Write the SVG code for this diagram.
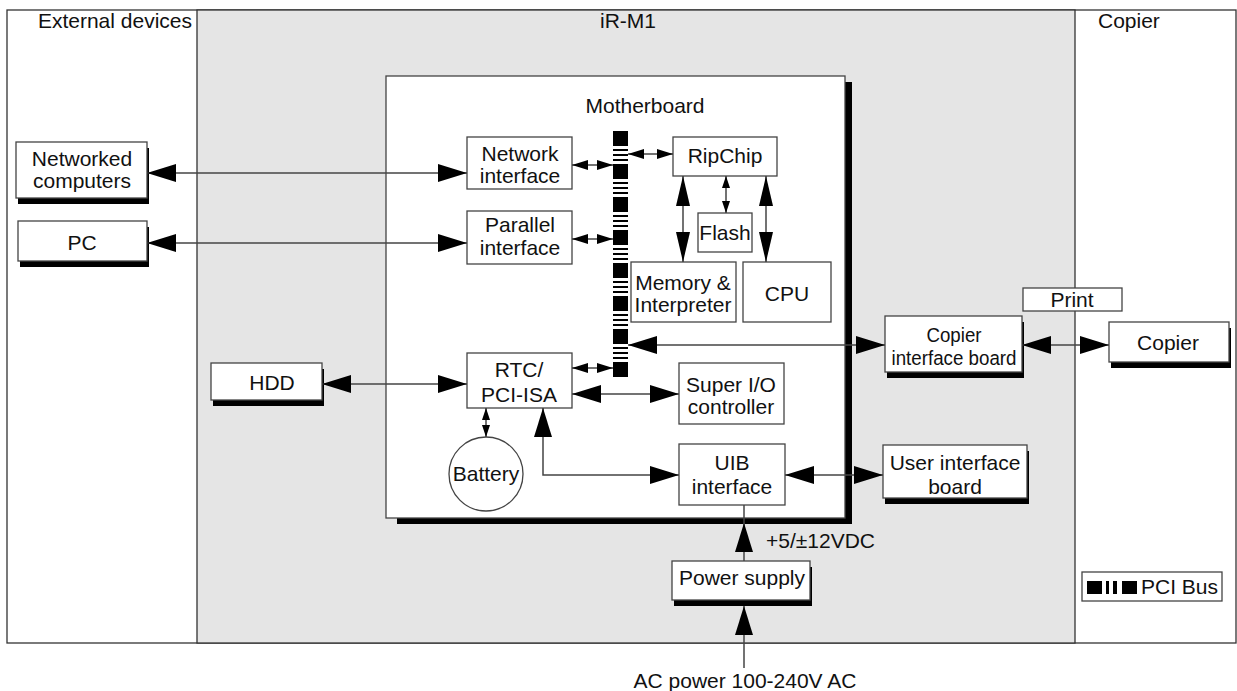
<svg xmlns="http://www.w3.org/2000/svg" width="1237" height="691" viewBox="0 0 1237 691">
<style>
text{font-family:"Liberation Sans",Arial,sans-serif;font-size:21px;fill:#111}
.m{text-anchor:middle}
.s{font-size:20.5px}
.box{fill:#fff;stroke:#444;stroke-width:1.3}
.sh{fill:#000}
.c{fill:none;stroke:#444;stroke-width:1.5}
.bus{fill:#000}
</style>
<defs>
<marker id="big" markerUnits="userSpaceOnUse" markerWidth="30" markerHeight="18" refX="29" refY="9" orient="auto-start-reverse"><path d="M0,0 L29,9 L0,18 Z" fill="#000"/></marker>
<marker id="tall" markerUnits="userSpaceOnUse" markerWidth="31" markerHeight="14" refX="30" refY="7" orient="auto-start-reverse"><path d="M0,0 L30,7 L0,14 Z" fill="#000"/></marker>
<marker id="med" markerUnits="userSpaceOnUse" markerWidth="16" markerHeight="10" refX="16" refY="5" orient="auto-start-reverse"><path d="M0,0 L16,5 L0,10 Z" fill="#000"/></marker>
<marker id="sm" markerUnits="userSpaceOnUse" markerWidth="12" markerHeight="8" refX="12" refY="4" orient="auto-start-reverse"><path d="M0,0 L12,4 L0,8 Z" fill="#000"/></marker>
</defs>

<g id="frame">
<rect x="7" y="10" width="1229" height="633" fill="#fff" stroke="#333" stroke-width="1.3"/>
<rect x="197" y="10" width="878" height="633" fill="#e5e5e5" stroke="#333" stroke-width="1.3"/>
<text x="192" y="28" text-anchor="end">External devices</text>
<text x="628" y="28" class="m">iR-M1</text>
<text x="1098" y="28">Copier</text>
</g>

<g id="motherboard">
<rect x="397" y="82" width="455" height="442" class="sh"/>
<rect x="386" y="76" width="459" height="442" class="box"/>
<text x="645" y="113" class="m">Motherboard</text>
</g>

<g id="pci-bus">
<rect x="613" y="131" width="15" height="15" class="bus"/>
<rect x="613" y="149" width="15" height="2" class="bus"/><rect x="613" y="154" width="15" height="2" class="bus"/><rect x="613" y="159" width="15" height="2" class="bus"/>
<rect x="613" y="164" width="15" height="15" class="bus"/>
<rect x="613" y="182" width="15" height="2" class="bus"/><rect x="613" y="187" width="15" height="2" class="bus"/><rect x="613" y="192" width="15" height="2" class="bus"/>
<rect x="613" y="197" width="15" height="15" class="bus"/>
<rect x="613" y="215" width="15" height="2" class="bus"/><rect x="613" y="220" width="15" height="2" class="bus"/><rect x="613" y="225" width="15" height="2" class="bus"/>
<rect x="613" y="230" width="15" height="15" class="bus"/>
<rect x="613" y="248" width="15" height="2" class="bus"/><rect x="613" y="253" width="15" height="2" class="bus"/><rect x="613" y="258" width="15" height="2" class="bus"/>
<rect x="613" y="263" width="15" height="15" class="bus"/>
<rect x="613" y="281" width="15" height="2" class="bus"/><rect x="613" y="286" width="15" height="2" class="bus"/><rect x="613" y="291" width="15" height="2" class="bus"/>
<rect x="613" y="296" width="15" height="15" class="bus"/>
<rect x="613" y="314" width="15" height="2" class="bus"/><rect x="613" y="319" width="15" height="2" class="bus"/><rect x="613" y="324" width="15" height="2" class="bus"/>
<rect x="613" y="329" width="15" height="15" class="bus"/>
<rect x="613" y="347" width="15" height="2" class="bus"/><rect x="613" y="352" width="15" height="2" class="bus"/><rect x="613" y="357" width="15" height="2" class="bus"/>
<rect x="613" y="362" width="15" height="15" class="bus"/>
</g>

<g id="networked-computers">
<rect x="18" y="148" width="131" height="56" class="sh"/>
<rect x="16" y="142" width="131" height="56" class="box"/>
<text x="82" y="166" class="m">Networked</text>
<text x="82" y="188" class="m">computers</text>
</g>
<g id="pc">
<rect x="20" y="227" width="129" height="40" class="sh"/>
<rect x="18" y="221" width="129" height="40" class="box"/>
<text x="82" y="250" class="m">PC</text>
</g>
<g id="hdd">
<rect x="213" y="369" width="111" height="37" class="sh"/>
<rect x="211" y="363" width="111" height="37" class="box"/>
<text x="272" y="390" class="m">HDD</text>
</g>

<g id="network-interface">
<rect x="467" y="137" width="105" height="52" class="box"/>
<text x="520" y="161" class="m">Network</text>
<text x="520" y="183" class="m">interface</text>
</g>
<g id="parallel-interface">
<rect x="467" y="211" width="105" height="53" class="box"/>
<text x="520" y="232" class="m">Parallel</text>
<text x="520" y="255" class="m">interface</text>
</g>
<g id="ripchip">
<rect x="673" y="137" width="104" height="39" class="box"/>
<text x="725" y="163" class="m">RipChip</text>
</g>
<g id="flash">
<rect x="698" y="213" width="54" height="39" class="box"/>
<text x="725" y="240" class="m">Flash</text>
</g>
<g id="memory">
<rect x="631" y="262" width="105" height="60" class="box"/>
<text x="683" y="290" class="m">Memory &amp;</text>
<text x="683" y="312" class="m">Interpreter</text>
</g>
<g id="cpu">
<rect x="743" y="262" width="88" height="60" class="box"/>
<text x="787" y="301" class="m">CPU</text>
</g>
<g id="rtc">
<rect x="467" y="353" width="105" height="55" class="box"/>
<text x="519" y="377" class="m">RTC/</text>
<text x="519" y="402" class="m">PCI-ISA</text>
</g>
<g id="super-io">
<rect x="679" y="363" width="105" height="61" class="box"/>
<text x="731" y="392" class="m">Super I/O</text>
<text x="731" y="414" class="m">controller</text>
</g>
<g id="battery">
<circle cx="486" cy="474" r="37" class="box"/>
<text x="486" y="481" class="m">Battery</text>
</g>
<g id="uib-interface">
<rect x="679" y="444" width="106" height="61" class="box"/>
<text x="732" y="470" class="m">UIB</text>
<text x="732" y="494" class="m">interface</text>
</g>

<g id="copier-interface-board">
<rect x="887" y="322" width="137" height="56" class="sh"/>
<rect x="885" y="316" width="137" height="56" class="box"/>
<text x="954" y="342" class="m s" textLength="55" lengthAdjust="spacingAndGlyphs">Copier</text>
<text x="954" y="365" class="m s" textLength="125" lengthAdjust="spacingAndGlyphs">interface board</text>
</g>
<g id="user-interface-board">
<rect x="885" y="451" width="144" height="53" class="sh"/>
<rect x="883" y="445" width="144" height="53" class="box"/>
<text x="955" y="470" class="m">User interface</text>
<text x="955" y="494" class="m">board</text>
</g>
<g id="print">
<rect x="1023" y="288" width="99" height="23" class="box"/>
<text x="1072" y="307" class="m">Print</text>
</g>
<g id="copier">
<rect x="1111" y="328" width="120" height="40" class="sh"/>
<rect x="1109" y="322" width="120" height="40" class="box"/>
<text x="1168" y="350" class="m">Copier</text>
</g>
<g id="power-supply">
<rect x="674" y="567" width="138" height="39" class="sh"/>
<rect x="672" y="561" width="138" height="39" class="box"/>
<text x="742" y="585" class="m">Power supply</text>
</g>

<g id="legend">
<rect x="1082" y="572" width="140" height="29" class="box"/>
<rect x="1087" y="581" width="15" height="13" class="bus"/>
<rect x="1106" y="581" width="3" height="13" class="bus"/>
<rect x="1113" y="581" width="4" height="13" class="bus"/>
<rect x="1122" y="581" width="15" height="13" class="bus"/>
<text x="1141" y="594">PCI Bus</text>
</g>

<g id="connectors">
<line x1="147" y1="173" x2="467" y2="173" class="c" marker-start="url(#big)" marker-end="url(#big)"/>
<line x1="147" y1="243" x2="467" y2="243" class="c" marker-start="url(#big)" marker-end="url(#big)"/>
<line x1="322" y1="384" x2="467" y2="384" class="c" marker-start="url(#big)" marker-end="url(#big)"/>
<line x1="572" y1="165" x2="613" y2="165" class="c" marker-start="url(#med)" marker-end="url(#med)"/>
<line x1="572" y1="239" x2="613" y2="239" class="c" marker-start="url(#med)" marker-end="url(#med)"/>
<line x1="572" y1="368" x2="613" y2="368" class="c" marker-start="url(#med)" marker-end="url(#med)"/>
<line x1="628" y1="154" x2="673" y2="154" class="c" marker-start="url(#med)" marker-end="url(#med)"/>
<line x1="683" y1="176" x2="683" y2="262" class="c" marker-start="url(#tall)" marker-end="url(#tall)"/>
<line x1="766" y1="176" x2="766" y2="262" class="c" marker-start="url(#tall)" marker-end="url(#tall)"/>
<line x1="726" y1="176" x2="726" y2="213" class="c" marker-start="url(#sm)" marker-end="url(#sm)"/>
<line x1="486" y1="408" x2="486" y2="437" class="c" marker-start="url(#sm)" marker-end="url(#sm)"/>
<line x1="572" y1="394" x2="679" y2="394" class="c" marker-start="url(#big)" marker-end="url(#big)"/>
<path d="M543,408 L543,475 L679,475" class="c" marker-start="url(#big)" marker-end="url(#big)"/>
<line x1="785" y1="475" x2="883" y2="475" class="c" marker-start="url(#big)" marker-end="url(#big)"/>
<line x1="628" y1="345" x2="885" y2="345" class="c" marker-start="url(#big)" marker-end="url(#big)"/>
<line x1="1022" y1="345" x2="1109" y2="345" class="c" marker-start="url(#big)" marker-end="url(#big)"/>
<line x1="744" y1="505" x2="744" y2="524" class="c"/>
<line x1="744" y1="561" x2="744" y2="523" class="c" marker-end="url(#big)"/>
<line x1="744" y1="668" x2="744" y2="606" class="c" marker-end="url(#big)"/>
</g>

<g id="labels">
<text x="766" y="548">+5/±12VDC</text>
<text x="745" y="688" class="m">AC power 100-240V AC</text>
</g>
</svg>
